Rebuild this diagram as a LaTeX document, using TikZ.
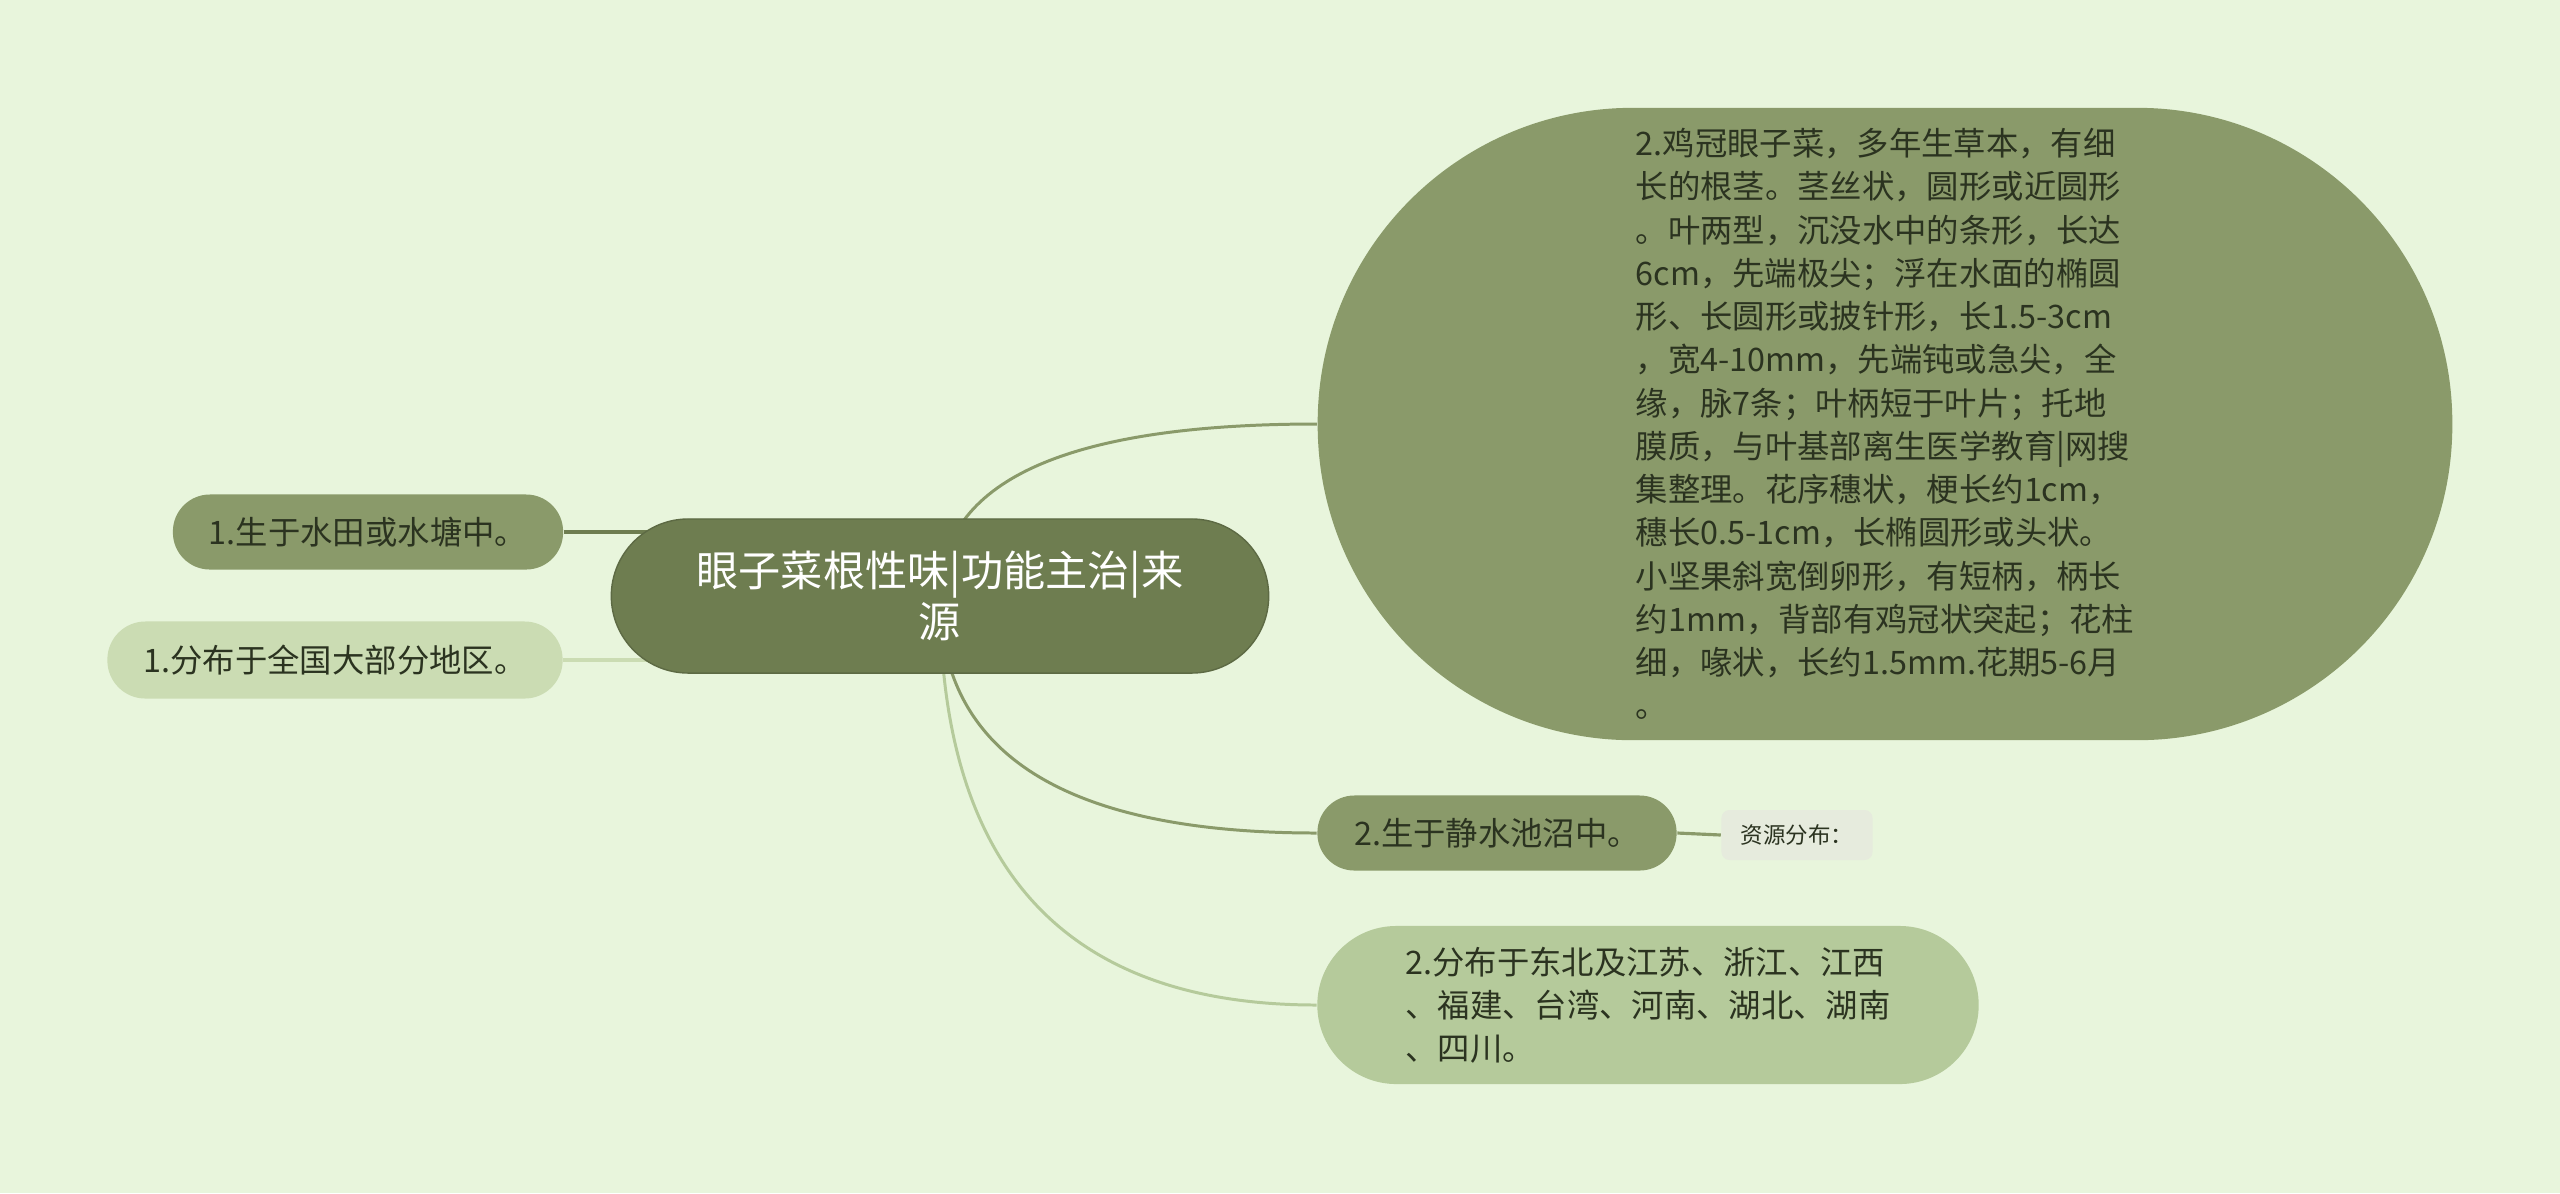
\documentclass[tikz,border=0pt]{standalone}
\usepackage{fontspec}
\setmainfont{Noto Sans CJK SC}
\usetikzlibrary{backgrounds,calc}

\definecolor{bgmint}{HTML}{E8F5DC}
\definecolor{rootgreen}{HTML}{6E7D50}
\definecolor{midgreen}{HTML}{8A9A6A}
\definecolor{palegreen}{HTML}{CBDCB3}
\definecolor{softgreen}{HTML}{B5CA9B}
\definecolor{tagfill}{HTML}{E6EBDD}
\definecolor{inkdark}{HTML}{2B3320}

\begin{document}
\begin{tikzpicture}[x=0.01cm,y=-0.01cm,
  leaf/.style={inner sep=0pt,text=inkdark,font=\fontsize{9.2}{12.3}\selectfont},
  link/.style={line width=0.85pt}]
  \useasboundingbox (0,0) rectangle (2560,1193);

  \node[fill=rootgreen,draw=rootgreen!85!black,line width=0.4pt,text=white,inner sep=0pt,
        minimum width=6.57cm,minimum height=1.54cm,rounded corners=0.77cm,align=center,
        font=\fontsize{12}{14.3}\selectfont] (root) at (940,596) {眼子菜根性味|功能主治|来\\源};

  \node[leaf,fill=midgreen,minimum width=3.9cm,minimum height=0.75cm,rounded corners=0.37cm]
       (paddy) at (368,532) {1.生于水田或水塘中。};
  \node[leaf,fill=palegreen,minimum width=4.55cm,minimum height=0.77cm,rounded corners=0.38cm]
       (whole) at (335,660) {1.分布于全国大部分地区。};

  \node[leaf,fill=midgreen,minimum width=11.34cm,minimum height=6.32cm,rounded corners=3.15cm,
        align=left] (crest) at (1885,424)
       {2.鸡冠眼子菜，多年生草本，有细\\
        长的根茎。茎丝状，圆形或近圆形\\
        。叶两型，沉没水中的条形，长达\\
        6cm，先端极尖；浮在水面的椭圆\\
        形、长圆形或披针形，长1.5-3cm\\
        ，宽4-10mm，先端钝或急尖，全\\
        缘，脉7条；叶柄短于叶片；托地\\
        膜质，与叶基部离生医学教育|网搜\\
        集整理。花序穗状，梗长约1cm，\\
        穗长0.5-1cm，长椭圆形或头状。\\
        小坚果斜宽倒卵形，有短柄，柄长\\
        约1mm，背部有鸡冠状突起；花柱\\
        细，喙状，长约1.5mm.花期5-6月\\
        。};

  \node[leaf,fill=midgreen,minimum width=3.59cm,minimum height=0.75cm,rounded corners=0.37cm]
       (pond) at (1497,833) {2.生于静水池沼中。};
  \node[inner sep=0pt,fill=tagfill,text=inkdark,minimum width=1.51cm,minimum height=0.5cm,
        rounded corners=0.08cm,font=\fontsize{6.4}{8}\selectfont] (tag) at (1797,835) {资源分布：};

  \node[leaf,fill=softgreen,minimum width=6.61cm,minimum height=1.58cm,rounded corners=0.79cm,
        align=left] (spread) at (1648,1005)
       {2.分布于东北及江苏、浙江、江西\\
        、福建、台湾、河南、湖北、湖南\\
        、四川。};

  \begin{scope}[on background layer]
    \fill[bgmint] (0,0) rectangle (2560,1193);
    \foreach \kid/\col in {crest/midgreen,pond/midgreen,spread/softgreen}
      \draw[link,\col] (root.center)
        .. controls ($(root.center)!0.667!(root.center |- \kid.west)$)
           and ($(\kid.west)!0.667!(root.center |- \kid.west)$) .. (\kid.west);
    \draw[line width=1.2pt,rootgreen] (paddy.east) -- (paddy.east -| root.center);
    \draw[line width=0.9pt,palegreen] (whole.east) -- (whole.east -| root.center);
    \draw[line width=0.9pt,midgreen] (pond.east) -- (tag.west);
  \end{scope}
\end{tikzpicture}
\end{document}
